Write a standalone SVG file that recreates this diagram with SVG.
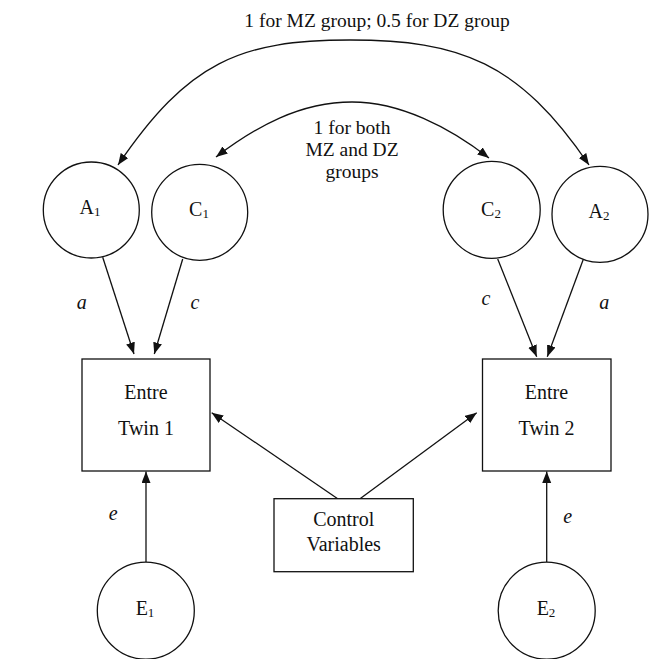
<svg xmlns="http://www.w3.org/2000/svg" width="652" height="659" viewBox="0 0 652 659">
  <defs>
    <marker id="arr" markerUnits="userSpaceOnUse" markerWidth="12" markerHeight="10" viewBox="0 0 12 10" refX="11.5" refY="4.5" orient="auto-start-reverse">
      <path d="M0,0 L11.5,4.5 L0,9 z" fill="#111"/>
    </marker>
    <style>
      .n { fill: #fff; stroke: #111; stroke-width: 1.3; }
      .c { fill: none; stroke: #111; stroke-width: 1.3; }
      text { font-family: "Liberation Serif", "Times New Roman", serif; fill: #111; }
      .lbl { font-size: 20px; text-anchor: middle; }
      .arcl { font-size: 19.5px; text-anchor: middle; }
      .it { font-size: 20px; font-style: italic; text-anchor: middle; }
      .sub { font-size: 13px; }
    </style>
  </defs>
  <rect width="652" height="659" fill="#fff"/>

  <g id="connectors">
    <path class="c" d="M118,165 C188,62 240,40 350,40 C460,40 519,62 589,165" marker-start="url(#arr)" marker-end="url(#arr)"/>
    <path class="c" d="M216,157 C256,126.6 300,102 352,102 C400,102 449,127 489,158" marker-start="url(#arr)" marker-end="url(#arr)"/>
    <line class="c" x1="102.7" y1="257.3" x2="134" y2="354" marker-end="url(#arr)"/>
    <line class="c" x1="182.7" y1="259" x2="154.3" y2="354" marker-end="url(#arr)"/>
    <line class="c" x1="497.7" y1="259" x2="536.7" y2="356.7" marker-end="url(#arr)"/>
    <line class="c" x1="583.7" y1="258.3" x2="547.3" y2="356.7" marker-end="url(#arr)"/>
    <line class="c" x1="146" y1="562.3" x2="146" y2="471.5" marker-end="url(#arr)"/>
    <line class="c" x1="546.7" y1="562.3" x2="546.7" y2="471.5" marker-end="url(#arr)"/>
    <line class="c" x1="337.7" y1="498.7" x2="211.7" y2="412.7" marker-end="url(#arr)"/>
    <line class="c" x1="360" y1="498.7" x2="476.7" y2="412.7" marker-end="url(#arr)"/>
    <text class="arcl" x="377" y="27">1 for MZ group; 0.5 for DZ group</text>
    <text class="arcl" x="352" y="134">1 for both</text>
    <text class="arcl" x="352" y="156">MZ and DZ</text>
    <text class="arcl" x="352" y="178">groups</text>
    <text class="it" x="81.7" y="309">a</text>
    <text class="it" x="195" y="309">c</text>
    <text class="it" x="486" y="305">c</text>
    <text class="it" x="604.3" y="309">a</text>
    <text class="it" x="113.3" y="520">e</text>
    <text class="it" x="567.7" y="523">e</text>
  </g>

  <g id="A1">
    <circle class="n" cx="91.3" cy="210" r="48"/>
    <text class="lbl" x="90" y="214">A<tspan class="sub" dy="2">1</tspan></text>
  </g>
  <g id="C1">
    <circle class="n" cx="199.7" cy="212.3" r="48"/>
    <text class="lbl" x="199" y="216">C<tspan class="sub" dy="2">1</tspan></text>
  </g>
  <g id="C2">
    <circle class="n" cx="491.7" cy="209.8" r="48.5"/>
    <text class="lbl" x="491" y="216">C<tspan class="sub" dy="2">2</tspan></text>
  </g>
  <g id="A2">
    <circle class="n" cx="600" cy="214.3" r="48"/>
    <text class="lbl" x="599" y="218">A<tspan class="sub" dy="2">2</tspan></text>
  </g>
  <g id="Twin1">
    <rect class="n" x="82" y="359" width="128" height="112"/>
    <text class="lbl" x="146" y="399">Entre</text>
    <text class="lbl" x="146" y="435">Twin 1</text>
  </g>
  <g id="Twin2">
    <rect class="n" x="482.5" y="359" width="128.5" height="112"/>
    <text class="lbl" x="546.5" y="399">Entre</text>
    <text class="lbl" x="546.5" y="435">Twin 2</text>
  </g>
  <g id="Control">
    <rect class="n" x="274" y="498.7" width="139.3" height="73"/>
    <text class="lbl" x="343.7" y="526">Control</text>
    <text class="lbl" x="343.7" y="550.7">Variables</text>
  </g>
  <g id="E1">
    <circle class="n" cx="145.8" cy="610.7" r="48.5"/>
    <text class="lbl" x="145" y="615">E<tspan class="sub" dy="2">1</tspan></text>
  </g>
  <g id="E2">
    <circle class="n" cx="546.7" cy="610.7" r="48.5"/>
    <text class="lbl" x="546" y="615">E<tspan class="sub" dy="2">2</tspan></text>
  </g>
</svg>
